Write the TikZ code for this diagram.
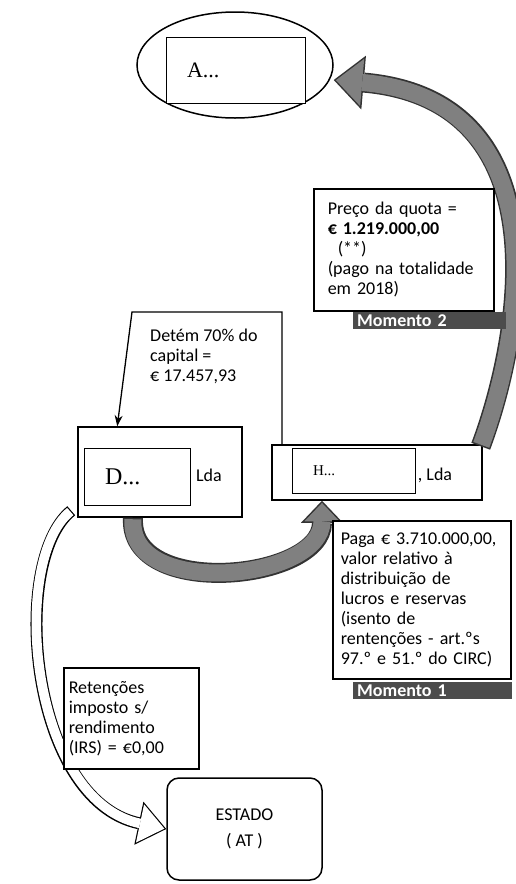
\documentclass[tikz,border=0pt]{standalone}
\usepackage{fontspec}
\setmainfont{Carlito}
\newfontfamily\nomefont{Liberation Serif}
\usetikzlibrary{arrows.meta,shapes.geometric}

\tikzset{
  caixa/.style={draw, line width=1.5pt, fill=white, align=left, anchor=north west, font=\fontsize{18}{20}\selectfont},
  nome/.style={draw, line width=1pt, fill=white, align=left},
  momento/.style={fill=black!70, text=white, font=\bfseries\fontsize{18}{17}\selectfont, anchor=north west, inner ysep=0pt, inner xsep=4pt, minimum height=17pt, align=left},
  setacinza/.style 2 args={line width=20pt, draw=black!80, -{Triangle[length=#1,width=#2,line width=0pt]}},
  setacinzain/.style n args={3}{line width=17pt, draw=black!50, shorten <=1.5pt, shorten >=#3, -{Triangle[length=#1,width=#2,line width=0pt]}},
  setabranca/.style={line width=12pt, draw=black, -{Triangle[length=28pt,width=44pt,line width=0pt]}},
  setabrancain/.style={line width=9.6pt, draw=white, shorten <=1.2pt, shorten >=1.9pt, -{Triangle[length=24.9pt,width=39.1pt,line width=0pt]}},
}

\begin{document}
\begin{tikzpicture}[x=1pt, y=-1pt]
\useasboundingbox (0,0) rectangle (516,884);

\node[draw, ellipse, line width=1.5pt, minimum width=196pt, minimum height=106pt] (ell) at (235,65) {};
\node[nome, minimum width=139pt, minimum height=66pt, text width=97pt, inner xsep=21pt, font=\nomefont\fontsize{22}{24}\selectfont] (abox) at (235.5,70) {A...};

\node[draw, line width=1.5pt, minimum width=164pt, minimum height=90pt] (dbox) at (160,472) {};
\node[nome, minimum width=106pt, minimum height=57pt, text width=64pt, inner xsep=21pt, font=\nomefont\fontsize{24}{26}\selectfont] (dnome) at (137,476.5) {D...};
\node[font=\fontsize{18}{20}\selectfont] (dlda) at (209,475) {Lda};

\node[draw, line width=1.5pt, minimum width=210pt, minimum height=55pt] (hbox) at (377,472.5) {};
\node[nome, minimum width=123pt, minimum height=45pt, text width=81pt, inner xsep=21pt, font=\nomefont\fontsize{15}{17}\selectfont] (hnome) at (353.5,470.5) {H...};
\node[font=\fontsize{18}{20}\selectfont] (hlda) at (435,475) {, Lda};

\node[draw, line width=1.5pt, rounded corners=12pt, minimum width=155pt, minimum height=102pt, align=center, font=\fontsize{18}{26}\selectfont] (estado) at (244.5,829) {ESTADO\\( AT )};

% momento 2
\draw[setacinza={30pt}{54pt}] ([shift={(-2,2)}]hbox.north east) .. controls +(40,-107) and +(232,20) .. ([yshift=-15pt]ell.east);
\draw[setacinzain={26.3pt}{47.3pt}{2.2pt}] ([shift={(-2,2)}]hbox.north east) .. controls +(40,-107) and +(232,20) .. ([yshift=-15pt]ell.east);
\node[caixa, minimum width=180pt, minimum height=122pt, text width=152pt, inner xsep=14pt] (preco) at (313,188)
  {Preço da quota =\\\textbf{€ 1.219.000,00}\\\hspace*{10pt}(**)\\(pago na totalidade\\em 2018)};
\node[momento, text width=145pt] (mom2) at (353,312) {Momento 2};

\coordinate (dtl) at (132,312);
\coordinate (dtr) at (282,312);
\draw[line width=1.3pt, -{Stealth[length=11pt,width=8pt]}] (hbox.north -| dtr) -- (dtr) -- (dtl) -- ([xshift=40pt]dbox.north west);
\node[anchor=north west, inner sep=0pt, align=left, font=\fontsize{18}{20}\selectfont] (detem) at (150,329)
  {Detém 70\% do\\capital =\\€ 17.457,93};

% momento 1
\draw[setacinza={22pt}{42pt}] ([xshift=-27pt]dbox.south) .. controls +(-5,82) and +(0,80) .. ([xshift=-55pt]hbox.south);
\draw[setacinzain={18.3pt}{35pt}{2.2pt}] ([xshift=-27pt]dbox.south) .. controls +(-5,82) and +(0,80) .. ([xshift=-55pt]hbox.south);
\node[caixa, minimum width=178pt, minimum height=158pt, text width=162pt, inner xsep=8pt] (paga) at (332,520)
  {Paga € 3.710.000,00,\\valor relativo à\\distribuição de\\lucros e reservas\\(isento de\\rentenções - art.ºs\\97.º e 51.º do CIRC)};
\node[momento, text width=151pt] (mom1) at (353,682) {Momento 1};

% retencoes
\draw[setabranca] ([shift={(-6,-7)}]dbox.south west) .. controls +(-62,50) and +(-137,-29) .. (estado.west);
\draw[setabrancain] ([shift={(-6,-7)}]dbox.south west) .. controls +(-62,50) and +(-137,-29) .. (estado.west);
\node[caixa, minimum width=135pt, minimum height=101pt, text width=125pt, inner xsep=5pt] (ret) at (63,667)
  {Retenções\\imposto s/\\rendimento\\(IRS) = €0,00};
\end{tikzpicture}
\end{document}
